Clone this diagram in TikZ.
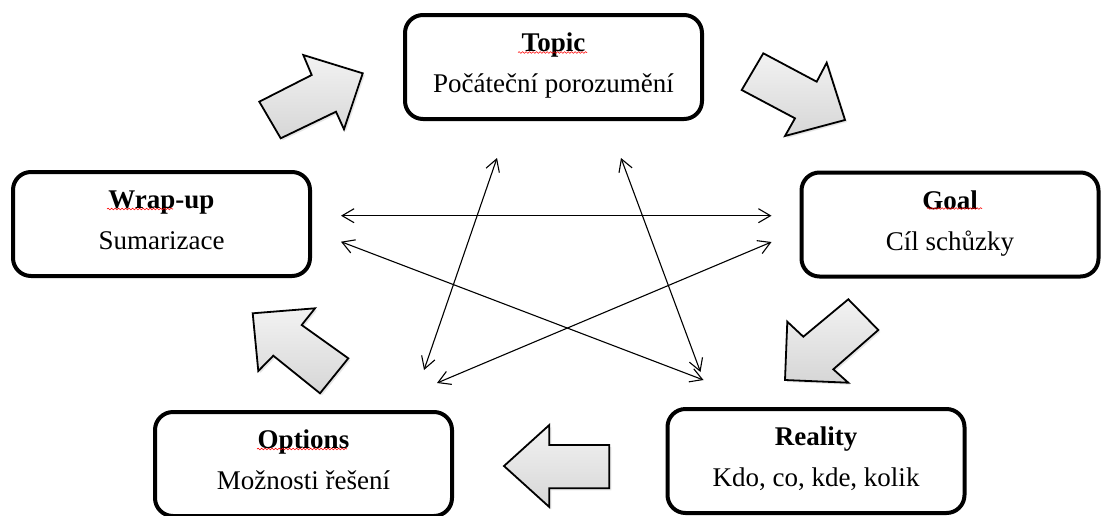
\documentclass[tikz,border=0pt]{standalone}
\usepackage{fontspec}
\setmainfont{Liberation Serif}
\usetikzlibrary{arrows.meta, shadows, decorations.pathmorphing}

\begin{document}
\begin{tikzpicture}[x=1pt, y=1pt]
	\tikzstyle{box} = [draw, line width=4pt, rounded corners=18pt, minimum width=297pt, minimum height=104pt, align=center, inner sep=0pt, font=\fontsize{27}{41}\selectfont, text depth=8pt]
	\tikzstyle{bigarrow} = [draw, line width=1.8pt, top color=gray!10, bottom color=gray!32, drop shadow={opacity=0.2, shadow xshift=2pt, shadow yshift=-2pt}]
	\tikzstyle{link} = [{Straight Barb[length=12pt, width=14pt]}-{Straight Barb[length=12pt, width=14pt]}, line width=1.1pt]
	\tikzstyle{squiggle} = [red, line width=0.6pt, decorate, decoration={snake, amplitude=0.8pt, segment length=3.5pt}]
	\useasboundingbox (0,0) rectangle (1101,-515);
	\node[box] (topic) at (553.5,-67) {\textbf{Topic}\\Počáteční porozumění};
	\node[box] (wrap) at (161.5,-224) {\textbf{Wrap-up}\\Sumarizace};
	\node[box] (goal) at (950,-224.5) {\textbf{Goal}\\Cíl schůzky};
	\node[box] (options) at (303.5,-464) {\textbf{Options}\\Možnosti řešení};
	\node[box] (reality) at (816,-461) {\textbf{Reality}\\Kdo, co, kde, kolik};
	\draw[squiggle] (518,-52.5) -- (587,-52.5);
	\draw[squiggle] (107,-209) -- (173,-209);
	\draw[squiggle] (927,-208.5) -- (982,-208.5);
	\draw[squiggle] (257,-449) -- (347,-449);
	\draw[bigarrow] (259.3,-101.7) -- (311.7,-75) -- (303.3,-55) -- (362.7,-73.3) -- (344,-129.3) -- (336,-111.7) -- (280.7,-138.3) -- cycle;
	\draw[bigarrow] (763.3,-53.3) -- (816.7,-81.7) -- (826.7,-62.7) -- (845,-120) -- (785,-136) -- (795,-118.3) -- (741.7,-90) -- cycle;
	\draw[bigarrow] (848.3,-299.3) -- (878.3,-330) -- (833.3,-369.3) -- (848.3,-382.7) -- (785,-380) -- (787.3,-321.7) -- (803.3,-336.7) -- cycle;
	\draw[bigarrow] (504,-466) -- (549.3,-425) -- (549.3,-445) -- (609.3,-445) -- (609.3,-488.3) -- (549.3,-488.3) -- (549.3,-507) -- cycle;
	\draw[bigarrow] (252.7,-313.3) -- (315,-308.3) -- (301.7,-325) -- (348.3,-358.3) -- (320,-393.3) -- (273.3,-355.7) -- (258.3,-371) -- cycle;
	\draw[link] ([shift={(29,8.3)}]wrap.east) -- ([shift={(-28,8.8)}]goal.west);
	\draw[link] ([shift={(29,-17.7)}]wrap.east) -- ([shift={(38,27)}]reality.north west);
	\draw[link] ([shift={(-28,-17.5)}]goal.west) -- ([shift={(-17,27)}]options.north east);
	\draw[link] ([shift={(-56.5,-37)}]topic.south) -- ([shift={(-30,40)}]options.north east);
	\draw[link] ([shift={(67.5,-37)}]topic.south) -- ([shift={(35,35)}]reality.north west);
\end{tikzpicture}
\end{document}
